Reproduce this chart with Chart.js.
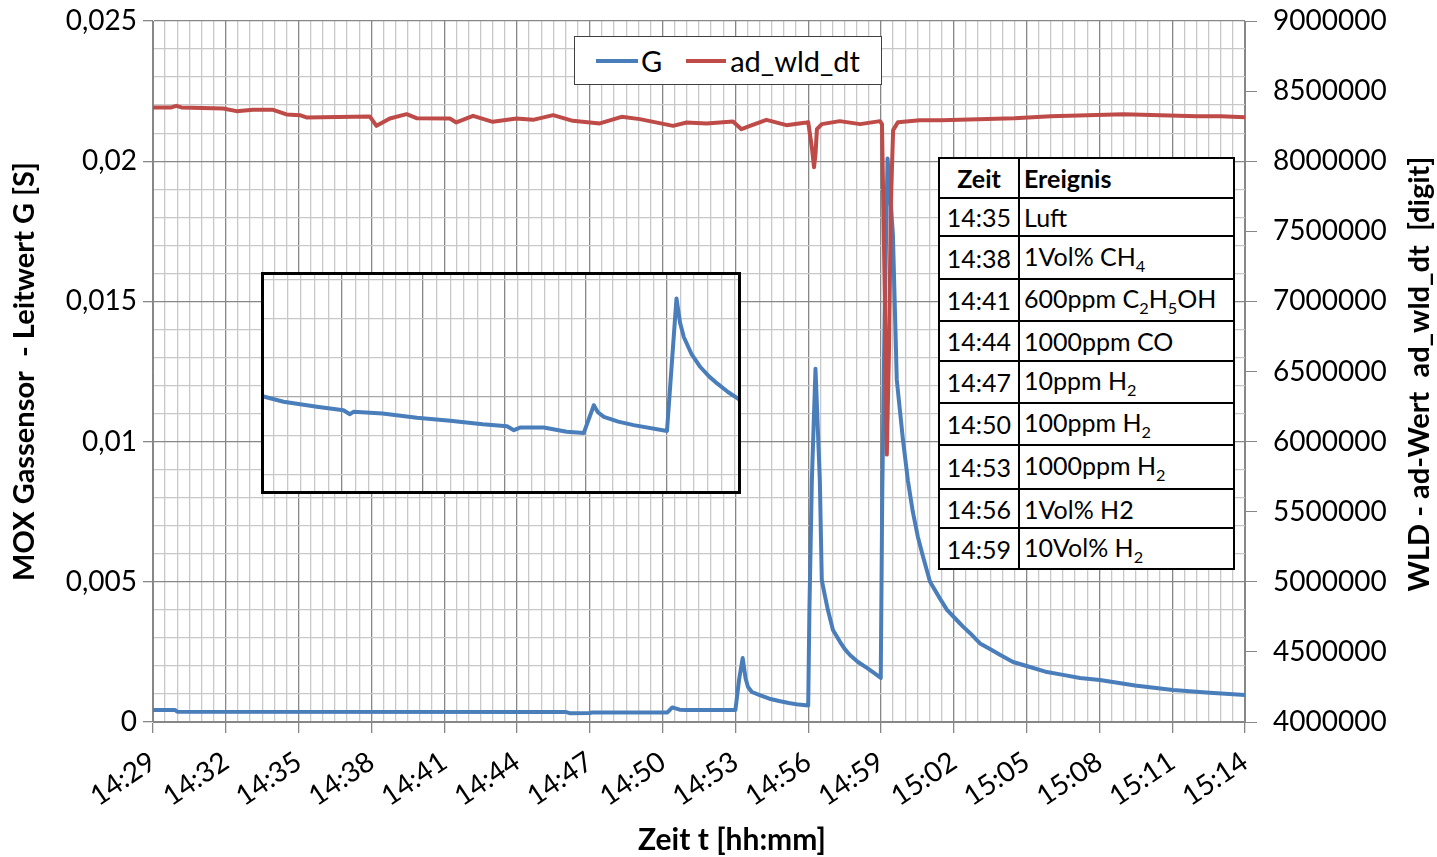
<!DOCTYPE html>
<html>
<head>
<meta charset="utf-8">
<script src="https://cdn.jsdelivr.net/npm/chart.js@4.4.0/dist/chart.umd.min.js"></script>
<style>
  body { margin: 0; background: #fff; font-family: Lato, sans-serif; }
  #wrap { position: relative; width: 1437px; height: 857px; }
  #legend { position: absolute; left: 574px; top: 36px; width: 308px; height: 49px;
            border: 1.5px solid #404040; background: #fff; font-size: 29px;
            display: flex; align-items: center; padding-left: 21px; box-sizing: border-box; }
  .sw { display: inline-block; width: 42px; height: 4px; margin-right: 3px; }
  #inset { position: absolute; left: 261px; top: 272px; width: 474px; height: 216px;
           border: 3px solid #000; background: #fff; }
  #events { position: absolute; left: 938px; top: 157px; border-collapse: collapse;
            background: #fff; font-size: 25px; color: #000; }
  #events td { border: 2px solid #000; padding: 0 4px; white-space: nowrap; }
  #events td:first-child { width: 70px; text-align: center; }
  #events td:last-child { width: 205px; }
  #events th { border: 2px solid #000; padding: 0 4px; text-align: left; font-weight: bold; }
  sub { font-size: 0.65em; }
</style>
</head>
<body>
<div id="wrap">
  <canvas id="main" width="1437" height="857"></canvas>
  <div id="legend">
    <span class="sw" style="background:#4a7ebb"></span><span>G</span>
    <span class="sw" style="background:#be4b48;margin-left:24px;width:40px;margin-right:4px"></span><span>ad_wld_dt</span>
  </div>
  <div id="inset"><canvas id="zoom" width="474" height="216"></canvas></div>
  <table id="events">
    <tr style="height:40px"><th style="text-align:center">Zeit</th><th>Ereignis</th></tr>
    <tr style="height:38px"><td>14:35</td><td>Luft</td></tr>
    <tr style="height:43px"><td>14:38</td><td>1Vol% CH<sub>4</sub></td></tr>
    <tr style="height:42px"><td>14:41</td><td>600ppm C<sub>2</sub>H<sub>5</sub>OH</td></tr>
    <tr style="height:40px"><td>14:44</td><td>1000ppm CO</td></tr>
    <tr style="height:42px"><td>14:47</td><td>10ppm H<sub>2</sub></td></tr>
    <tr style="height:42px"><td>14:50</td><td>100ppm H<sub>2</sub></td></tr>
    <tr style="height:44px"><td>14:53</td><td>1000ppm H<sub>2</sub></td></tr>
    <tr style="height:39px"><td>14:56</td><td>1Vol% H2</td></tr>
    <tr style="height:41px"><td>14:59</td><td>10Vol% H<sub>2</sub></td></tr>
  </table>
</div>
<script>
// time = minutes after 14:29
const gTime = [0, 0.9, 1.0, 17.0, 17.2, 18.0, 18.1, 21.2, 21.4, 21.7, 22.0, 24.0, 24.15, 24.3, 24.42, 24.52,
  24.68, 25.0, 25.4, 25.8, 26.2, 26.6, 27.0, 27.05, 27.15, 27.3, 27.48, 27.56, 27.69, 27.81, 28.02, 28.31,
  28.51, 28.72, 29.05, 29.42, 29.71, 29.99, 30.05, 30.15, 30.27, 30.49, 30.65, 30.9, 31.11, 31.31, 31.52,
  31.73, 32.02, 32.43, 32.72, 33.05, 33.38, 33.75, 34.08, 34.49, 34.9, 35.44, 36.14, 36.84, 37.5, 38.2,
  39.02, 40.47, 42.03, 43.55, 45.0];
const gValues = [0.00043, 0.00043, 0.00037, 0.00036, 0.00031, 0.00032, 0.00034, 0.00034, 0.00052, 0.00044, 0.00043, 0.00043, 0.0015, 0.00228, 0.00155, 0.00125,
  0.00107, 0.00096, 0.00083, 0.00075, 0.00068, 0.00062, 0.00059, 0.004, 0.0086, 0.0126, 0.0086, 0.00506, 0.0045, 0.004, 0.00328, 0.00286,
  0.0026, 0.00239, 0.00214, 0.00193, 0.00175, 0.00157, 0.008, 0.0145, 0.0201, 0.0174, 0.0122, 0.0101, 0.0086, 0.0075, 0.0066,
  0.0059, 0.0050, 0.0044, 0.0040, 0.0037, 0.0034, 0.0031, 0.0028, 0.0026, 0.0024, 0.00214, 0.00196, 0.00178, 0.00168, 0.00157,
  0.0015, 0.0013, 0.00114, 0.00104, 0.00096];

const wldTime = [0, 0.76, 0.96, 1.17, 2.89, 3.44, 4.12, 4.95, 5.5, 6.05, 6.32, 8.93, 9.21, 9.76, 10.45, 10.86,
  12.23, 12.5, 13.19, 14.0, 14.98, 15.66, 16.49, 17.3, 18.41, 19.31, 20.06, 21.43, 21.99, 22.81, 23.9, 24.25,
  24.6, 25.28, 26.1, 26.93, 27.0, 27.16, 27.24, 27.3, 27.36, 27.56, 28.3, 29.14, 29.96, 30.04, 30.16, 30.24,
  30.33, 30.41, 30.5, 30.7, 31.6, 32.5, 34.0, 35.5, 37.0, 38.5, 40.0, 41.5, 43.0, 44.0, 45.0];
const wldValues = [8383600, 8383600, 8395000, 8383600, 8376400, 8357100, 8366400, 8366400, 8333600, 8328600, 8312100, 8319300, 8252100, 8305000, 8335700, 8307100,
  8305000, 8276400, 8323600, 8280700, 8305000, 8295000, 8328600, 8287900, 8269300, 8316400, 8300000, 8252100, 8276400, 8269300, 8283600, 8228600,
  8252100, 8295000, 8257100, 8276400, 8278600, 8085700, 7957100, 8050000, 8228600, 8264300, 8285700, 8264300, 8285700, 8264300, 7014300, 5907100,
  6657100, 7728600, 8221400, 8278600, 8292900, 8292900, 8300000, 8307100, 8321400, 8328600, 8335700, 8328600, 8321400, 8321400, 8314300];

// inset (Ausschnitt), relative units
const insetTime = [9.07, 9.85, 11.08, 12.06, 12.3, 12.43, 13.5, 14.77, 16.0, 17.2, 18.1, 18.35, 18.6, 19.45,
  20.3, 20.93, 21.3, 21.45, 21.67, 22.2, 22.77, 24.0, 24.35, 24.48, 24.62, 24.9, 25.23, 25.55, 25.85, 26.25, 26.7];
const insetValues = [2.01, 1.87, 1.74, 1.65, 1.55, 1.61, 1.57, 1.46, 1.38, 1.29, 1.24, 1.14, 1.21, 1.21,
  1.10, 1.07, 1.78, 1.6, 1.48, 1.36, 1.27, 1.12, 4.52, 3.9, 3.53, 3.1, 2.76, 2.52, 2.34, 2.12, 1.91];

const xTitle = 'Zeit t [hh:mm]';
const yTitle = 'MOX Gassensor  - Leitwert G [S]';
const y2Title = 'WLD - ad-Wert  ad_wld_dt  [digit]';

const blue = '#4a7ebb', red = '#be4b48';
const majorGrid = '#878787', minorGrid = '#c8c8c8';
const isMult = (v, step) => Math.abs(v / step - Math.round(v / step)) < 1e-6;
const hhmm = t => { const m = 14 * 60 + 29 + Math.round(t); return Math.floor(m / 60) + ':' + String(m % 60).padStart(2, '0'); };
const pts = (xs, ys) => xs.map((x, i) => ({ x: x, y: ys[i] }));
const tickFont = { family: 'Lato', size: 28 };
const noPad = s => { s.paddingTop = 0; s.paddingBottom = 0; s.paddingLeft = 0; s.paddingRight = 0; };

const axisTitles = {
  id: 'axisTitles',
  afterDraw(chart) {
    const ctx = chart.ctx, a = chart.chartArea;
    const midY = (a.top + a.bottom) / 2;
    ctx.save();
    ctx.fillStyle = '#000';
    ctx.textAlign = 'center';
    ctx.textBaseline = 'middle';
    ctx.font = 'bold 30px Lato';
    ctx.fillText(xTitle, 732, 840);
    ctx.font = 'bold 29px Lato';
    ctx.translate(25, midY);
    ctx.rotate(-Math.PI / 2);
    ctx.fillText(yTitle, 0, 0);
    ctx.restore();
    ctx.save();
    ctx.font = 'bold 29px Lato';
    ctx.fillStyle = '#000';
    ctx.textAlign = 'center';
    ctx.textBaseline = 'middle';
    ctx.translate(1420, 374);
    ctx.rotate(-Math.PI / 2);
    ctx.fillText(y2Title, 0, 0);
    ctx.restore();
  }
};

new Chart(document.getElementById('main'), {
  type: 'line',
  data: {
    datasets: [
      { label: 'G', data: pts(gTime, gValues), yAxisID: 'y', borderColor: blue, borderWidth: 4, order: 1 },
      { label: 'ad_wld_dt', data: pts(wldTime, wldValues), yAxisID: 'y2', borderColor: red, borderWidth: 4, order: 0 }
    ]
  },
  options: {
    responsive: false,
    animation: false,
    elements: { point: { radius: 0 }, line: { tension: 0, borderJoinStyle: 'round', borderCapStyle: 'round' } },
    layout: { padding: { top: 21, left: 0, right: 0, bottom: 0 } },
    plugins: { legend: { display: false }, tooltip: { enabled: false } },
    scales: {
      x: {
        type: 'linear', min: 0, max: 45,
        ticks: { stepSize: 0.5, autoSkip: false, minRotation: 34, maxRotation: 34, padding: 12, color: '#000', font: tickFont,
          callback: v => isMult(v, 3) ? hhmm(v) : '' },
        grid: { color: c => isMult(c.tick.value, 3) ? majorGrid : minorGrid,
          tickColor: c => isMult(c.tick.value, 3) ? majorGrid : 'rgba(0,0,0,0)', tickLength: 11, lineWidth: 1.3 },
        border: { color: majorGrid },
        afterFit: s => { s.height = 135; noPad(s); }
      },
      y: {
        position: 'left', min: 0, max: 0.025,
        ticks: { stepSize: 0.001, autoSkip: false, padding: 6, color: '#000', font: tickFont,
          callback: v => isMult(v, 0.005) ? String(+v.toFixed(3)).replace('.', ',') : '' },
        grid: { color: c => isMult(c.tick.value, 0.005) ? majorGrid : minorGrid,
          tickColor: c => isMult(c.tick.value, 0.005) ? majorGrid : 'rgba(0,0,0,0)', tickLength: 10, lineWidth: 1.3 },
        border: { color: majorGrid },
        afterFit: s => { s.width = 153; noPad(s); }
      },
      y2: {
        position: 'right', min: 4000000, max: 9000000,
        ticks: { stepSize: 500000, autoSkip: false, padding: 16, color: '#000', font: tickFont, callback: v => String(v) },
        grid: { drawOnChartArea: false, tickLength: 12, color: majorGrid, tickColor: majorGrid },
        border: { color: majorGrid },
        afterFit: s => { s.width = 192; noPad(s); }
      }
    }
  },
  plugins: [axisTitles]
});

new Chart(document.getElementById('zoom'), {
  type: 'line',
  data: { datasets: [{ label: 'G', data: pts(insetTime, insetValues), borderColor: blue, borderWidth: 4 }] },
  options: {
    responsive: false,
    animation: false,
    elements: { point: { radius: 0 }, line: { tension: 0, borderJoinStyle: 'round' } },
    layout: { padding: 0 },
    plugins: { legend: { display: false }, tooltip: { enabled: false } },
    scales: {
      x: {
        type: 'linear', min: 9.13, max: 26.62,
        ticks: { display: false, stepSize: 0.5, includeBounds: false },
        grid: { drawTicks: false, lineWidth: 1.3,
          color: c => isMult(c.tick.value, 3) ? majorGrid : (isMult(c.tick.value, 0.5) ? minorGrid : 'rgba(0,0,0,0)') },
        border: { display: false },
        afterFit: s => { s.height = 0; noPad(s); }
      },
      y: {
        min: -0.42, max: 5.12,
        ticks: { display: false, stepSize: 1, includeBounds: false },
        grid: { drawTicks: false, lineWidth: 1.3,
          color: c => isMult(c.tick.value, 1) ? (c.tick.value === 2 ? '#a8a8a8' : minorGrid) : 'rgba(0,0,0,0)' },
        border: { display: false },
        afterFit: s => { s.width = 0; noPad(s); }
      }
    }
  }
});
</script>
</body>
</html>
